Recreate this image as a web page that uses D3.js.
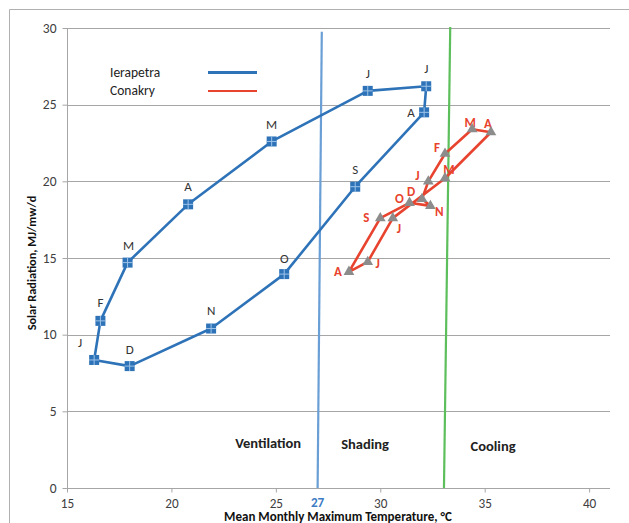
<!DOCTYPE html>
<html><head><meta charset="utf-8">
<script src="https://cdn.jsdelivr.net/npm/d3@7"></script>
<style>
html,body{margin:0;padding:0;background:#fff;}
svg{display:block;font-family:Carlito,Lato,"Liberation Sans",sans-serif;}
</style></head>
<body>
<svg id="chart" width="629" height="523"></svg>
<script>
// ---- data ----
const ierapetraMonths = ["J","F","M","A","M","J","J","A","S","O","N","D"];
const ierapetraTemp   = [16.3,16.6,17.9,20.8,24.8,29.4,32.2,32.1,28.8,25.4,21.9,18.0];
const ierapetraRad    = [8.35,10.9,14.7,18.5,22.6,25.9,26.2,24.5,19.65,13.95,10.4,7.95];

const conakryMonths = ["J","F","M","A","M","J","J","A","S","O","N","D"];
const conakryTemp   = [32.3,33.1,34.4,35.3,33.1,30.6,29.4,28.5,30.0,31.4,32.4,32.0];
const conakryRad    = [20.0,21.8,23.4,23.2,20.2,17.6,14.75,14.1,17.6,18.6,18.4,18.85];

const xTicks = [15,20,25,30,35,40];
const yTicks = [0,5,10,15,20,25,30];
const boundaryLabel = "27";
const boundaries = [ // x at top, y at top, x at bottom
  {name:"ventilation/shading", xTop:27.2, yTop:29.75, xBottom:27.0},
  {name:"shading/cooling",     xTop:33.35, yTop:30.07, xBottom:33.05}
];
const zones = [
  {label:"Ventilation", x:24.63, y:2.6},
  {label:"Shading",     x:29.27, y:2.55},
  {label:"Cooling",     x:35.4,  y:2.4}
];
const seriesNames = ["Ierapetra","Conakry"];

// ---- layout ----
const svg = d3.select("#chart");
const x = d3.scaleLinear().domain([15,41]).range([67,610]);
const y = d3.scaleLinear().domain([0,30]).range([488,28]);

const BLUE = "#2e73b8", RED = "#e8432e", GRID = "#a6a6a6";
const FONT = "Carlito,Lato,sans-serif";

// chart border
svg.append("path").attr("d","M9.5,523 V9.5 H629").attr("fill","none").attr("stroke","#b0b0b0").attr("stroke-width",1);

// gridlines
svg.append("g").selectAll("line").data(yTicks.filter(d=>d>0)).join("line")
  .attr("x1",x(15)).attr("x2",x(41))
  .attr("y1",d=>Math.round(y(d))+0.5).attr("y2",d=>Math.round(y(d))+0.5)
  .attr("stroke",GRID).attr("stroke-width",1);

// axes
const xAxis = d3.axisBottom(x).tickValues(xTicks).tickSize(4).tickPadding(6);
const gx = svg.append("g").attr("transform",`translate(0,${Math.round(y(0))+0.5})`).call(xAxis);
gx.select(".domain").attr("stroke",GRID).attr("d",`M${x(15)},0H${x(41)}`);
gx.selectAll(".tick line").attr("stroke",GRID);
gx.selectAll("text").attr("fill","#404040").attr("font-size",13.2).attr("font-family",FONT);

const yAxis = d3.axisLeft(y).tickValues(yTicks).tickSize(5).tickPadding(6);
const gy = svg.append("g").attr("transform",`translate(${Math.round(x(15))+0.5},0)`).call(yAxis);
gy.select(".domain").attr("stroke",GRID).attr("d",`M0,${y(0)}V${y(30)}`);
gy.selectAll(".tick line").attr("stroke",GRID);
gy.selectAll("text").attr("fill","#404040").attr("font-size",13.5).attr("font-family",FONT);

// boundary lines
const bColors = ["#6a9fd6","#5cbf5c"];
svg.append("g").selectAll("line").data(boundaries).join("line")
  .attr("x1",d=>x(d.xTop)).attr("y1",d=>y(d.yTop))
  .attr("x2",d=>x(d.xBottom)).attr("y2",y(0))
  .attr("stroke",(d,i)=>bColors[i]).attr("stroke-width",2.2);

svg.append("text").attr("x",x(boundaries[0].xBottom)).attr("y",507)
  .attr("text-anchor","middle").attr("font-size",13.2).attr("font-weight","bold")
  .attr("fill","#3d7cc4").text(boundaryLabel);

// zone labels
svg.append("g").selectAll("text").data(zones).join("text")
  .attr("x",d=>x(d.x)).attr("y",d=>y(d.y)).attr("text-anchor","middle")
  .attr("font-size",14.5).attr("font-weight","bold").attr("fill","#222").text(d=>d.label);

// axis titles
svg.append("text").attr("x",338).attr("y",521).attr("text-anchor","middle")
  .attr("font-size",13).attr("font-weight","bold").attr("fill","#111")
  .text("Mean Monthly Maximum Temperature, °C");
svg.append("text").attr("transform","translate(36,263) rotate(-90)").attr("text-anchor","middle")
  .attr("font-size",12.3).attr("font-weight","bold").attr("fill","#111")
  .text("Solar Radiation, MJ/mw/d");

// series
const ier = ierapetraMonths.map((m,i)=>({m, t:ierapetraTemp[i], r:ierapetraRad[i]}));
const con = conakryMonths.map((m,i)=>({m, t:conakryTemp[i], r:conakryRad[i]}));
const line = d3.line().x(d=>x(d.t)).y(d=>y(d.r)).curve(d3.curveLinearClosed);

svg.append("path").datum(ier).attr("d",line).attr("fill","none")
  .attr("stroke",BLUE).attr("stroke-width",2.6).attr("stroke-linejoin","round");
svg.append("path").datum(con).attr("d",line).attr("fill","none")
  .attr("stroke",RED).attr("stroke-width",2.6).attr("stroke-linejoin","round");

// Ierapetra label offsets (dx, dy relative to marker)
const ierOff = [[-14,-17],[0,-18],[1,-17],[0,-18],[0,-17],[0,-17],[0,-18],[-13,0],[0,-17],[0,-16],[0,-18],[0,-17]];
svg.append("g").selectAll("text").data(ier).join("text")
  .attr("x",(d,i)=>x(d.t)+ierOff[i][0]).attr("y",(d,i)=>y(d.r)+ierOff[i][1]+4.5)
  .attr("text-anchor","middle").attr("font-size",13).attr("fill","#333").text(d=>d.m);

// square markers
const sq = svg.append("g").selectAll("g").data(ier).join("g")
  .attr("transform",d=>`translate(${x(d.t)},${y(d.r)})`);
sq.append("rect").attr("x",-5).attr("y",-5).attr("width",10).attr("height",10).attr("fill",BLUE);
sq.append("path").attr("d","M-5,0H5M0,-5V5").attr("stroke","#9cc3ea").attr("stroke-width",1);

// Conakry labels
const conOff = [[-11,-6],[-8,-6],[-2,-7],[-3,-9],[4,-9],[6,10],[10,2],[-11,0],[-14,-1],[-10,-4],[9,6],[-11,-7]];
svg.append("g").selectAll("text").data(con).join("text")
  .attr("x",(d,i)=>x(d.t)+conOff[i][0]).attr("y",(d,i)=>y(d.r)+conOff[i][1]+4.5)
  .attr("text-anchor","middle").attr("font-size",13).attr("font-weight","bold")
  .attr("fill",RED).text(d=>d.m);

// triangle markers
svg.append("g").selectAll("path").data(con).join("path")
  .attr("d",d3.symbol().type(d3.symbolTriangle).size(50))
  .attr("transform",d=>`translate(${x(d.t)},${y(d.r)})`)
  .attr("fill","#8c8c8c");

// legend
const legend = svg.append("g");
const legColors = [BLUE, RED];
const legY = [77, 95];
seriesNames.forEach((n,i)=>{
  legend.append("text").attr("x",110).attr("y",legY[i]).attr("font-size",13.5).attr("fill","#222").text(n);
  legend.append("line").attr("x1",208).attr("x2",257).attr("y1",legY[i]-4.5+(i?0.5:0)).attr("y2",legY[i]-4.5+(i?0.5:0))
    .attr("stroke",legColors[i]).attr("stroke-width",i?2:2.8);
});
</script>
</body></html>
